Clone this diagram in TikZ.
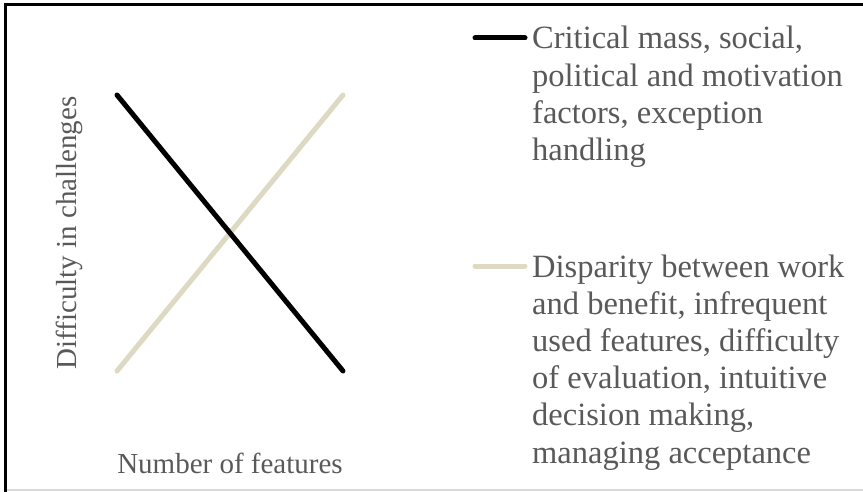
\documentclass[tikz,border=0pt]{standalone}
\usepackage{fontspec}
\setmainfont{Liberation Serif}
\definecolor{tan}{HTML}{DDD9C3}
\definecolor{txtgray}{HTML}{595959}
\tikzset{
  trend/.style={line width=5pt, line cap=round},
  legtext/.style={anchor=base west, align=left, inner sep=0pt, text=txtgray,
    font=\fontsize{32.5}{37.2}\selectfont},
  axtext/.style={inner sep=0pt, text=txtgray, font=\fontsize{29}{34}\selectfont}
}
\begin{document}
\begin{tikzpicture}[x=1pt,y=-1pt]
      \useasboundingbox (0,0) rectangle (863,492);
      % frame
      \draw[gray!30, line width=1.5pt] (5.5,490) -- (863,490);
      \draw[line width=2.5pt] (5.5,492) -- (5.5,4.5) -- (866,4.5);
      % chart
      \coordinate (bs) at (117,95);
      \coordinate (be) at (343,371);
      \coordinate (ts) at (117,371);
      \coordinate (te) at (343,95);
      \draw[trend, tan] (ts) -- (te);
      \draw[trend, black] (bs) -- (be);
      \node[axtext] (xlab) at (230,463) {Number of features};
      \node[axtext, rotate=90] (ylab) at (69,233) {Difficulty in challenges};
      % legend (base = last line)
      \coordinate (k1) at (475,38);
      \coordinate (k2) at (475,266);
      \node[legtext] (l1) at (532,160.6) {Critical mass, social,\\political and motivation\\factors, exception\\handling};
      \node[legtext] (l2) at (532,463) {Disparity between work\\and benefit, infrequent\\used features, difficulty\\of evaluation, intuitive\\decision making,\\managing acceptance};
      \begin{scope}[trend, shorten >=7pt]
        \draw[black] (k1) -- (k1 -| l1.west);
        \draw[tan] (k2) -- (k2 -| l2.west);
      \end{scope}
    \end{tikzpicture}
\end{document}
